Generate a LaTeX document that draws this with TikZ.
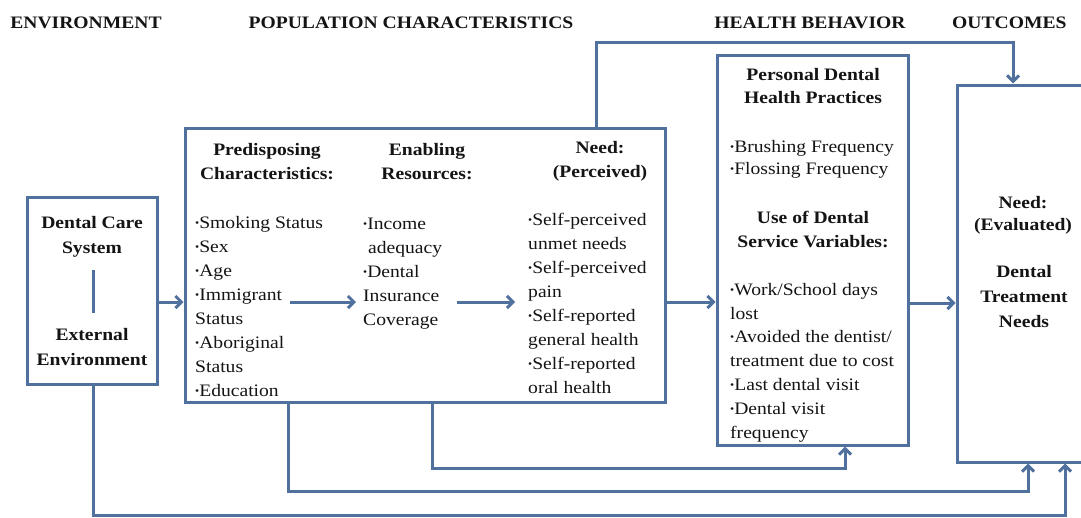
\documentclass[tikz,border=0pt]{standalone}
\usepackage{fontspec}
\setmainfont{Liberation Serif}[FakeStretch=1.12]
\usepackage{graphicx}
\usetikzlibrary{arrows.meta,shadows}
\definecolor{linkblue}{RGB}{80,112,158}
\newcommand\bul{\raisebox{0.25ex}{\scalebox{0.6}{•}}}

\begin{document}
\begin{tikzpicture}[x=1pt,y=-1pt,
  panel/.style={draw=linkblue, line width=3pt, fill=white, inner sep=0pt,
    drop shadow={shadow xshift=1.2pt, shadow yshift=-1.6pt, opacity=0.3}},
  txt/.style={inner sep=0pt, text=black!92, font=\fontsize{17.5}{24}\selectfont},
  hd/.style={inner sep=0pt, text=black!92, font=\fontsize{17.5}{24}\selectfont\bfseries},
  conn/.style={draw=linkblue, line width=3pt},
  arr/.style={conn, -{Straight Barb[length=6pt,width=12pt]}},
]
\clip (0,0) rectangle (1081,517);
\useasboundingbox (0,0) rectangle (1081,517);

% column headings
\node[hd, anchor=base] (hEnv) at (86,28) {ENVIRONMENT};
\node[hd, anchor=base] (hPop) at (411,28) {POPULATION CHARACTERISTICS};
\node[hd, anchor=base] (hBeh) at (810,28) {HEALTH BEHAVIOR};
\node[hd, anchor=base west] (hOut) at (952,28) {OUTCOMES};

% boxes
\node[panel, minimum width=130pt, minimum height=187pt] (env) at (92,290.5) {};
\node[panel, minimum width=480pt, minimum height=274pt] (pop) at (425,265) {};
\node[panel, minimum width=191pt, minimum height=390pt] (hb) at (812.5,250) {};
\node[panel, minimum width=153pt, minimum height=377pt] (out) at (1033.5,273.5) {};

% environment
\node[hd, anchor=north, align=center, font=\fontsize{17.5}{25}\selectfont\bfseries] (envA) at (92,216) {Dental Care\\System};
\node[hd, anchor=north, align=center, font=\fontsize{17.5}{25}\selectfont\bfseries] (envB) at (92,328) {External\\Environment};
\coordinate (envL1) at (93,270);
\coordinate (envL2) at (93,313);
\draw[conn] (envL1) -- (envL2);

% population characteristics
\node[hd, anchor=north, align=center] (c1t) at (267,143) {Predisposing\\Characteristics:};
\node[txt, anchor=north west, align=left] (c1) at (195,216) {\bul Smoking Status\\\bul Sex\\\bul Age\\\bul Immigrant\\Status\\\bul Aboriginal\\Status\\\bul Education};
\node[hd, anchor=north, align=center] (c2t) at (427,143) {Enabling\\Resources:};
\node[txt, anchor=north west, align=left] (c2) at (363,218) {\bul Income\\\ adequacy\\\bul Dental\\Insurance\\Coverage};
\node[hd, anchor=north, align=center] (c3t) at (600,141) {Need:\\(Perceived)};
\node[txt, anchor=north west, align=left] (c3) at (528,213) {\bul Self-perceived\\unmet needs\\\bul Self-perceived\\pain\\\bul Self-reported\\general health\\\bul Self-reported\\oral health};

\coordinate (a1s) at (290,302);
\coordinate (a1e) at (356,302);
\coordinate (a2s) at (457,302);
\coordinate (a2e) at (515,302);
\draw[arr] (a1s) -- (a1e);
\draw[arr] (a2s) -- (a2e);

% health behaviour
\node[hd, anchor=north, align=center, font=\fontsize{17.5}{23.5}\selectfont\bfseries] (hbt1) at (813,68) {Personal Dental\\Health Practices};
\node[txt, anchor=north west, align=left, font=\fontsize{17.5}{22}\selectfont] (hbl1) at (730,140) {\bul Brushing Frequency\\\bul Flossing Frequency};
\node[hd, anchor=north, align=center, font=\fontsize{17.5}{23.5}\selectfont\bfseries] (hbt2) at (813,211) {Use of Dental\\Service Variables:};
\node[txt, anchor=north west, align=left, font=\fontsize{17.5}{23.8}\selectfont] (hbl2) at (730,283) {\bul Work/School days\\lost\\\bul Avoided the dentist/\\treatment due to cost\\\bul Last dental visit\\\bul Dental visit\\frequency};

% outcomes
\node[hd, anchor=north, align=center, font=\fontsize{17.5}{22.5}\selectfont\bfseries] (ot1) at (1023,196) {Need:\\(Evaluated)};
\node[hd, anchor=north, align=center, font=\fontsize{17.5}{25}\selectfont\bfseries] (ot2) at (1024,265) {Dental\\Treatment\\Needs};

% connectors between stages
\draw[arr] (env.east |- 0,302) -- (pop.west |- 0,302);
\draw[arr] (pop.east |- 0,302) -- (hb.west |- 0,302);
\draw[arr] (hb.east |- 0,303) -- (out.west |- 0,303);
\draw[arr] (pop.north -| 596,0) -- (596,42) -| (out.north -| 1013,0);
\draw[arr] (pop.south -| 432,0) -- (432,468) -| (hb.south -| 845,0);
\draw[arr] (pop.south -| 288,0) -- (288,491) -| (out.south -| 1028,0);
\draw[arr] (env.south -| 93,0) -- (93,515) -| (out.south -| 1065,0);
\end{tikzpicture}
\end{document}
